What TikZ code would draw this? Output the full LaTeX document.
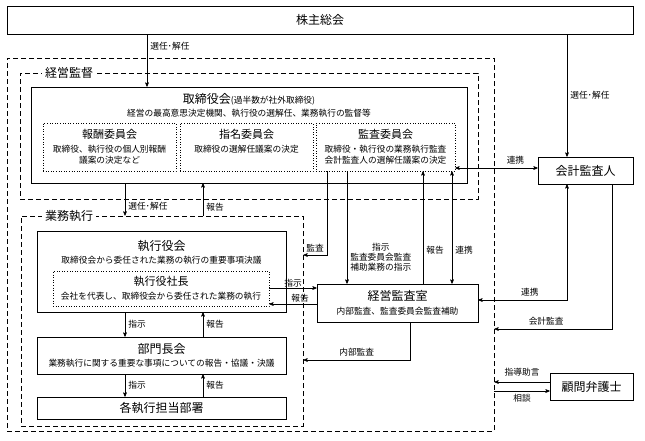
\documentclass[tikz,border=0pt]{standalone}
\usepackage{fontspec}
\setmainfont{Noto Sans CJK JP}
\usetikzlibrary{arrows,positioning}
\newcommand{\ttlf}{\fontsize{12}{14}\selectfont}
\newcommand{\cttlf}{\fontsize{11}{13}\selectfont}
\newcommand{\descf}{\fontsize{8.7}{10.5}\selectfont}
\newcommand{\lblf}{\fontsize{8.7}{10}\selectfont}

\begin{document}
\begin{tikzpicture}[->,>=stealth',x=1pt,y=-1pt,line width=0.6pt,font=\lblf]
\tikzstyle{box}=[draw,rectangle,inner sep=0pt,align=center]
\tikzstyle{cmte}=[draw,dotted,rectangle,inner sep=0pt,line width=0.6pt]
\tikzstyle{zone}=[draw,dash pattern=on 5pt off 3pt,rectangle,inner sep=0pt,line width=0.9pt]
\tikzstyle{zonelbl}=[fill=white,font=\ttlf,inner sep=3pt]
\tikzstyle{lbl}=[inner sep=3pt]
\useasboundingbox (0,0) rectangle (645,440);

% groups
\node[zone,minimum width=487,minimum height=373] (all) at (250.5,244.5) {};
\node[zone,minimum width=458,minimum height=126] (kantoku) at (249,136) {};
\node[zonelbl] (kantokulbl) at (69,73) {経営監督};
\node[zone,minimum width=282,minimum height=210] (gyomu) at (162,321) {};
\node[zonelbl] (gyomulbl) at (69,216) {業務執行};

% boxes
\node[box,minimum width=626,minimum height=28,font=\ttlf] (kabu) at (320,20) {株主総会};
\node[box,minimum width=436,minimum height=96] (tori) at (249,135) {};
\node[below=6pt of tori.north,inner sep=0pt] (toriname) {\ttlf 取締役会{\descf(過半数が社外取締役)}};
\node[below=4pt of toriname,inner sep=0pt,font=\descf] (torinote) {経営の最高意思決定機関、執行役の選解任、業務執行の監督等};
\node[cmte,minimum width=133,minimum height=48] (hoshu) at (109.5,147) {};
\node[cmte,minimum width=133,minimum height=48] (shimei) at (246.5,147) {};
\node[cmte,minimum width=139,minimum height=48] (kansa) at (385.5,147) {};
\foreach \c/\t/\d in {hoshu/報酬委員会/{取締役、執行役の個人別報酬\\議案の決定など},
  shimei/指名委員会/{取締役の選解任議案の決定},
  kansa/監査委員会/{取締役・執行役の業務執行監査\\会計監査人の選解任議案の決定}}
  \node[below=6pt of \c.north,inner sep=0pt,align=center,font=\descf] (\c txt) {{\cttlf \t}\\[4pt]\d};

\node[box,minimum width=249,minimum height=81] (shikko) at (161.5,271.5) {};
\node[below=9pt of shikko.north,inner sep=0pt,font=\ttlf] (shikkoname) {執行役会};
\node[below=4pt of shikkoname,inner sep=0pt,font=\descf] (shikkonote) {取締役会から委任された業務の執行の重要事項決議};
\node[box,dotted,minimum width=216,minimum height=35,font=\descf] (shacho) at (161,288.5) {{\cttlf 執行役社長}\\[3pt]会社を代表し、取締役会から委任された業務の執行};
\node[box,minimum width=249,minimum height=37,font=\descf] (bumon) at (161.5,355.5) {{\ttlf 部門長会}\\[3pt]業務執行に関する重要な事項についての報告・協議・決議};
\node[box,minimum width=249,minimum height=22,font=\ttlf] (busho) at (161.5,408) {各執行担当部署};
\node[box,minimum width=161,minimum height=38,font=\descf] (kansashitsu) at (397.5,303) {{\ttlf 経営監査室}\\[3pt]内部監査、監査委員会監査補助};
\node[box,minimum width=95,minimum height=27,font=\ttlf] (kaikei) at (585.5,170.5) {会計監査人};
\node[box,minimum width=83,minimum height=27,font=\ttlf] (komon) at (591.5,386.5) {顧問弁護士};

% connectors
\draw (147,0 |- kabu.south) -- node[lbl,right,pos=0.23] {選任･解任} (147,0 |- tori.north);
\draw (567,0 |- kabu.south) -- node[lbl,right,pos=0.5] {選任･解任} (567,0 |- kaikei.north);
\draw (125,0 |- tori.south) -- node[lbl,right,pos=0.72] {選任･解任} (125,0 |- gyomu.north);
\draw (203,0 |- gyomu.north) -- node[lbl,right,pos=0.27] {報告} (203,0 |- tori.south);
\draw (125,0 |- shikko.south) -- node[lbl,right] {指示} (125,0 |- bumon.north);
\draw (203,0 |- bumon.north) -- node[lbl,right] {報告} (203,0 |- shikko.south);
\draw (125,0 |- bumon.south) -- node[lbl,right] {指示} (125,0 |- busho.north);
\draw (203,0 |- busho.north) -- node[lbl,right] {報告} (203,0 |- bumon.south);
\draw (shacho.east |- 0,288) -- node[lbl,above,inner sep=1pt] {指示} (kansashitsu.west |- 0,288);
\draw (kansashitsu.west |- 0,304) -- node[lbl,above,pos=0.35,inner sep=1pt] {報告} (shacho.east |- 0,304);
\draw (327,0 |- kansa.south) |- node[lbl,above left] {監査} (gyomu.east |- 0,255);
\draw (347,0 |- kansa.south) -- node[lbl,right,pos=0.76,align=center] {指示\\監査委員会監査\\補助業務の指示} (347,0 |- kansashitsu.north);
\draw (423,0 |- kansashitsu.north) -- node[lbl,right,pos=0.3] {報告} (423,0 |- kansa.south);
\draw[<->] (452,0 |- kansa.south) -- node[lbl,right,pos=0.7] {連携} (452,0 |- kansashitsu.north);
\draw[<->] (kansa.east |- 0,168) -- node[lbl,above,pos=0.73] {連携} (kaikei.west |- 0,168);
\draw[<->] (567,0 |- kaikei.south) |- node[lbl,above,pos=0.71] {連携} (kansashitsu.east |- 0,300);
\draw (612,0 |- kaikei.south) |- node[lbl,above,pos=0.78] {会計監査} (all.east |- 0,329);
\draw (410,0 |- kansashitsu.south) |- node[lbl,above,pos=0.75] {内部監査} (gyomu.east |- 0,360);
\draw (komon.west |- 0,382) -- node[lbl,above,inner sep=5pt] {指導助言} (all.east |- 0,382);
\draw (all.east |- 0,391) -- node[lbl,below] {相談} (komon.west |- 0,391);
\end{tikzpicture}
\end{document}
